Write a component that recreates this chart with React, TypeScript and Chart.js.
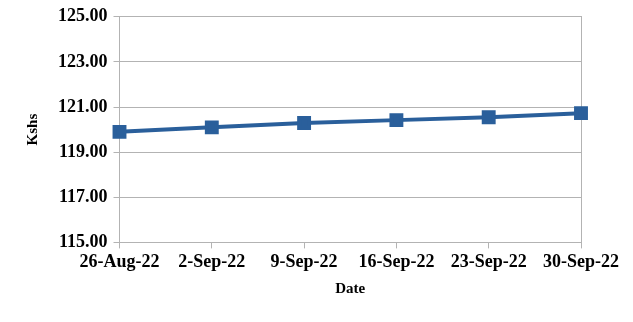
import React, { useEffect, useRef } from "react";
import { Chart, registerables } from "chart.js";

Chart.register(...registerables);

const categories = ["26-Aug-22", "2-Sep-22", "9-Sep-22", "16-Sep-22", "23-Sep-22", "30-Sep-22"];
const rates = [119.9, 120.1, 120.29, 120.42, 120.55, 120.73];
const yMin = 115;
const yMax = 125;
const yStep = 2;

const FONT = "'Liberation Serif', 'Times New Roman', serif";
const GRID = "#b3b3b3";
const LINE = "#2a5f9b";

export default function App() {
  const ref = useRef<HTMLCanvasElement | null>(null);
  useEffect(() => {
    if (!ref.current) return;
    const chart = new Chart(ref.current, {
      type: "line",
      data: {
        labels: categories,
        datasets: [
          {
            data: rates,
            borderColor: LINE,
            backgroundColor: LINE,
            borderWidth: 4,
            pointStyle: "rect",
            pointRadius: 7,
            pointHoverRadius: 7,
            tension: 0,
          },
        ],
      },
      options: {
        animation: false,
        responsive: false,
        layout: { padding: { left: 20, right: 44, top: 4, bottom: 20 } },
        plugins: { legend: { display: false }, tooltip: { enabled: false } },
        scales: {
          x: {
            offset: false,
            grid: { drawOnChartArea: false, drawTicks: true, tickLength: 6, color: GRID },
            border: { color: GRID, width: 1 },
            ticks: { color: "#000", font: { family: FONT, size: 18, weight: "bold" }, maxRotation: 0, autoSkip: false, padding: 3 },
            title: { display: true, text: "Date", color: "#000", font: { family: FONT, size: 15, weight: "bold" }, padding: { top: 4 } },
          },
          y: {
            min: yMin,
            max: yMax,
            ticks: {
              stepSize: yStep,
              color: "#000",
              font: { family: FONT, size: 18, weight: "bold" },
              padding: 6,
              callback: (v: any) => Number(v).toFixed(2),
            },
            grid: { color: GRID, tickLength: 6 },
            border: { color: GRID, width: 1 },
            title: { display: true, text: "Kshs", color: "#000", font: { family: FONT, size: 15, weight: "bold" }, padding: { bottom: 10 } },
          },
          y2: {
            position: "right",
            min: yMin,
            max: yMax,
            ticks: { display: false },
            grid: { display: false },
            border: { color: GRID, width: 1 },
          },
        },
      },
    });
    return () => chart.destroy();
  }, []);
  return (
    <div style={{ position: "fixed", left: 0, top: 0, width: 633, height: 322, background: "#fff" }}>
      <canvas ref={ref} width={633} height={322} />
    </div>
  );
}
